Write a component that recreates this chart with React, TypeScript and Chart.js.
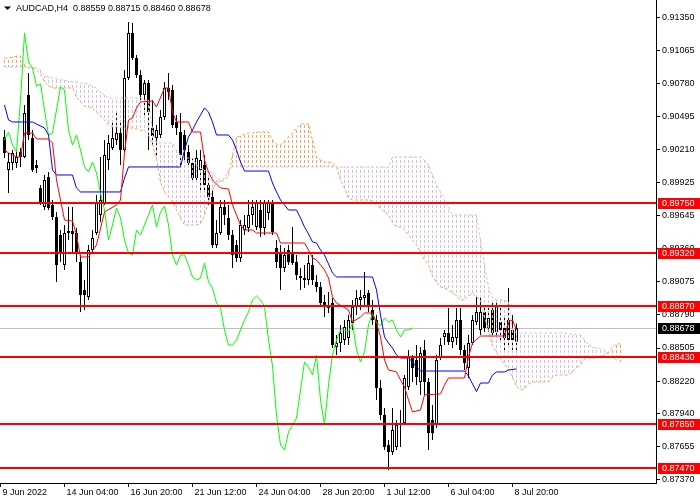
import React, { useEffect, useRef } from 'react';
import { Chart, registerables } from 'chart.js';

Chart.register(...registerables);

const FONT = "'Liberation Sans', Arial, sans-serif";

const symbolTitle = 'AUDCAD,H4';

const openP = [0.90320,0.90036,0.90096,0.90096,0.90191,0.90148,0.90681,0.90311,0.90079,0.89881,
0.89718,0.89976,0.89735,0.89632,0.89477,0.89219,0.89494,0.89511,0.89494,0.89245,
0.89004,0.88944,0.89348,0.89494,0.89649,0.89752,0.90122,0.90225,0.90294,0.90354,
0.90208,0.90827,0.91214,0.90999,0.90853,0.90681,0.90784,0.90397,0.90311,0.90337,
0.90492,0.90741,0.90724,0.90449,0.90363,0.90337,0.90191,0.90096,0.89967,0.90036,
0.90079,0.89907,0.89804,0.89391,0.89494,0.89718,0.89623,0.89477,0.89391,0.89279,
0.89520,0.89537,0.89649,0.89546,0.89692,0.89537,0.89666,0.89752,0.89365,0.89331,
0.89193,0.89348,0.89322,0.89245,0.89124,0.89090,0.89090,0.89219,0.89073,0.89030,
0.88901,0.88849,0.88892,0.88514,0.88548,0.88574,0.88591,0.88720,0.88858,0.88918,
0.88935,0.88978,0.88832,0.88746,0.88161,0.87929,0.87671,0.87611,0.87654,0.87843,
0.87860,0.88170,0.88419,0.88402,0.88213,0.88488,0.88213,0.87886,0.87843,0.88419,
0.88600,0.88634,0.88557,0.88591,0.88746,0.88488,0.88333,0.88548,0.88729,0.88660,
0.88815,0.88677,0.88832,0.88643,0.88729,0.88677,0.88746,0.88660,0.88559];

const highP = [0.90380,0.90182,0.90208,0.90208,0.90225,0.90595,0.90870,0.90380,0.90122,0.89907,
0.89993,0.90019,0.89778,0.89675,0.89520,0.89563,0.89718,0.89718,0.89537,0.89305,
0.89090,0.89391,0.89520,0.89821,0.90148,0.90294,0.90337,0.90466,0.90552,0.90466,
0.90896,0.91309,0.91300,0.91025,0.90896,0.90810,0.90810,0.90638,0.90423,0.90552,
0.90793,0.90870,0.90767,0.90509,0.90526,0.90380,0.90251,0.90139,0.90208,0.90208,
0.90165,0.89967,0.89864,0.89606,0.89778,0.89778,0.89735,0.89520,0.89434,0.89606,
0.89649,0.89778,0.89778,0.89778,0.89778,0.89778,0.89778,0.89778,0.89434,0.89391,
0.89365,0.89391,0.89546,0.89305,0.89193,0.89219,0.89305,0.89305,0.89133,0.89073,
0.88961,0.88987,0.88935,0.88617,0.88703,0.88746,0.88789,0.88918,0.89004,0.89004,
0.89159,0.89004,0.88918,0.88789,0.88230,0.87989,0.87714,0.87989,0.87886,0.87972,
0.88273,0.88488,0.88445,0.88531,0.88514,0.88574,0.88247,0.88015,0.88445,0.88591,
0.88660,0.88849,0.88703,0.88849,0.88849,0.88531,0.88617,0.88789,0.88961,0.88961,
0.88875,0.88849,0.88918,0.88918,0.88875,0.88763,0.89021,0.88789,0.88715];

const lowP = [0.90139,0.89838,0.90036,0.90053,0.90062,0.90139,0.90294,0.90019,0.90010,0.89735,
0.89692,0.89692,0.89606,0.89073,0.89245,0.89176,0.89434,0.89322,0.89245,0.88815,
0.88832,0.88918,0.89322,0.89477,0.89589,0.89735,0.90036,0.90208,0.90251,0.90079,
0.90191,0.90810,0.90982,0.90827,0.90638,0.90509,0.90208,0.90251,0.90139,0.90311,
0.90466,0.90638,0.90397,0.90337,0.90079,0.90122,0.90053,0.89924,0.89933,0.89864,
0.89864,0.89735,0.89365,0.89365,0.89477,0.89563,0.89434,0.89193,0.89245,0.89245,
0.89477,0.89503,0.89563,0.89520,0.89460,0.89477,0.89606,0.89477,0.89193,0.89004,
0.89159,0.89219,0.89219,0.89090,0.89004,0.89021,0.89047,0.89047,0.88987,0.88875,
0.88772,0.88806,0.88505,0.88445,0.88471,0.88531,0.88531,0.88660,0.88789,0.88832,
0.88875,0.88815,0.88703,0.88058,0.87886,0.87628,0.87456,0.87585,0.87628,0.87654,
0.87843,0.88144,0.88213,0.88187,0.88101,0.88101,0.87628,0.87714,0.87817,0.88402,
0.88531,0.88531,0.88505,0.88531,0.88445,0.88316,0.88247,0.88531,0.88703,0.88617,
0.88643,0.88643,0.88617,0.88617,0.88574,0.88488,0.88531,0.88488,0.88460];

const closeP = [0.90182,0.90105,0.90182,0.90148,0.90148,0.90526,0.90337,0.90036,0.90053,0.89752,
0.89950,0.89709,0.89632,0.89219,0.89322,0.89494,0.89511,0.89486,0.89322,0.88961,
0.88961,0.89348,0.89451,0.89752,0.89778,0.90165,0.90268,0.90311,0.90354,0.90208,
0.90827,0.91214,0.90999,0.90853,0.90681,0.90784,0.90535,0.90328,0.90380,0.90492,
0.90741,0.90707,0.90423,0.90397,0.90165,0.90208,0.90096,0.89967,0.90139,0.90122,
0.89907,0.89804,0.89391,0.89494,0.89718,0.89649,0.89477,0.89305,0.89279,0.89563,
0.89563,0.89649,0.89718,0.89752,0.89537,0.89752,0.89752,0.89503,0.89245,0.89193,
0.89305,0.89245,0.89236,0.89133,0.89107,0.89107,0.89236,0.89090,0.89030,0.88892,
0.88858,0.88875,0.88531,0.88548,0.88634,0.88686,0.88746,0.88858,0.88935,0.88944,
0.88961,0.88858,0.88746,0.88161,0.87929,0.87654,0.87611,0.87800,0.87843,0.87852,
0.88247,0.88428,0.88333,0.88256,0.88462,0.88213,0.87774,0.87774,0.88402,0.88531,
0.88634,0.88557,0.88600,0.88746,0.88488,0.88376,0.88548,0.88746,0.88815,0.88815,
0.88677,0.88763,0.88634,0.88858,0.88660,0.88591,0.88574,0.88574,0.88678];

// Tenkan-sen (red) vertices: [bar index, price]
const tenkanPts: [number, number][] = [
[0,0.90208],[1,0.90182],[3,0.90148],[4,0.90148],[5,0.90354],[7,0.90354],[8,0.90303],[11,0.90303],
[12,0.90268],[13,0.89950],[15,0.89606],[17,0.89597],[18,0.89477],[19,0.89288],[21,0.89288],[23,0.89391],
[25,0.89675],[28,0.89735],[29,0.89778],[30,0.90182],[31,0.90466],[32,0.90483],[33,0.90569],[34,0.90621],
[37,0.90629],[38,0.90578],[40,0.90741],[41,0.90741],[42,0.90535],[43,0.90449],[46,0.90449],[47,0.90363],
[49,0.90363],[50,0.90122],[51,0.90019],[52,0.89950],[54,0.89881],[56,0.89873],[57,0.89735],[58,0.89649],
[59,0.89563],[60,0.89520],[62,0.89520],[63,0.89494],[68,0.89494],[69,0.89408],[75,0.89408],[76,0.89348],
[77,0.89279],[78,0.89262],[80,0.89176],[81,0.89107],[82,0.88944],[83,0.88892],[86,0.88832],[87,0.88729],
[89,0.88772],[90,0.88806],[92,0.88806],[93,0.88720],[94,0.88600],[95,0.88402],[96,0.88316],[98,0.88299],
[99,0.88230],[100,0.88170],[101,0.88058],[102,0.87955],[104,0.87972],[105,0.88101],[109,0.88110],[110,0.88187],
[111,0.88247],[115,0.88247],[116,0.88428],[117,0.88548],[119,0.88608],[125,0.88608],[126,0.88729],[127,0.88746],
[128,0.88660]];

// Kijun-sen (blue) vertices: [bar index, price]
const kijunPts: [number, number][] = [
[0,0.90595],[1,0.90466],[2,0.90449],[7,0.90449],[10,0.90397],[11,0.90337],[12,0.90036],[13,0.89993],
[17,0.89993],[18,0.89881],[19,0.89847],[29,0.89847],[30,0.89967],[31,0.90062],[44,0.90062],[45,0.90208],
[46,0.90320],[47,0.90380],[48,0.90449],[49,0.90509],[50,0.90569],[51,0.90535],[52,0.90449],[53,0.90337],
[56,0.90337],[57,0.90294],[58,0.90208],[59,0.90105],[60,0.90027],[66,0.90027],[67,0.89924],[68,0.89847],
[69,0.89778],[70,0.89735],[71,0.89692],[73,0.89692],[74,0.89623],[75,0.89546],[76,0.89486],[77,0.89417],
[78,0.89408],[79,0.89348],[80,0.89305],[81,0.89228],[82,0.89150],[83,0.89116],[92,0.89116],[93,0.89004],
[94,0.88789],[95,0.88600],[96,0.88548],[97,0.88505],[98,0.88445],[99,0.88419],[101,0.88419],[102,0.88385],
[103,0.88342],[104,0.88307],[115,0.88307],[116,0.88264],[117,0.88196],[118,0.88130],[119,0.88204],[121,0.88204],
[122,0.88273],[123,0.88299],[125,0.88299],[126,0.88316],[128,0.88325]];

// Chikou span (green), one value per bar from index 0
const chikouVals = [0.90294,0.90363,0.90251,0.90191,0.90638,0.91214,0.90965,0.90913,0.90758,0.90776,
0.90552,0.90337,0.90354,0.90552,0.90750,0.90724,0.90380,0.90251,0.90337,0.90208,
0.90062,0.90019,0.90105,0.90010,0.89838,0.89692,0.89434,0.89563,0.89709,0.89623,
0.89434,0.89322,0.89305,0.89520,0.89477,0.89563,0.89649,0.89735,0.89546,0.89675,
0.89726,0.89563,0.89305,0.89219,0.89305,0.89305,0.89219,0.89116,0.89090,0.89107,
0.89236,0.89073,0.89021,0.88892,0.88849,0.88660,0.88531,0.88531,0.88574,0.88660,
0.88746,0.88815,0.88918,0.88952,0.88918,0.88866,0.88574,0.88350,0.87929,0.87671,
0.87628,0.87783,0.87843,0.87903,0.88144,0.88385,0.88342,0.88273,0.88445,0.88058,
0.87843,0.88187,0.88445,0.88574,0.88660,0.88660,0.88643,0.88720,0.88488,0.88385,
0.88471,0.88703,0.88798,0.88729,0.88694,0.88763,0.88729,0.88746,0.88660,0.88600,
0.88660,0.88660,0.88677];

// Senkou span A (orange), one value per bar from index 0 (extends 26 bars ahead)
const spanA = [0.90999,0.90999,0.91008,0.91016,0.91016,0.90939,0.90913,0.90913,0.90896,0.90862,
0.90793,0.90758,0.90741,0.90741,0.90741,0.90741,0.90741,0.90741,0.90664,0.90621,
0.90586,0.90578,0.90569,0.90535,0.90500,0.90466,0.90423,0.90406,0.90406,0.90397,
0.90397,0.90397,0.90397,0.90389,0.90380,0.90371,0.90337,0.90251,0.90139,0.89933,
0.89847,0.89804,0.89769,0.89692,0.89623,0.89563,0.89563,0.89563,0.89563,0.89572,
0.89649,0.89761,0.89864,0.89933,0.89933,0.89950,0.89984,0.90165,0.90320,0.90328,
0.90346,0.90354,0.90354,0.90363,0.90363,0.90363,0.90363,0.90294,0.90260,0.90251,
0.90285,0.90320,0.90354,0.90397,0.90432,0.90432,0.90432,0.90294,0.90148,0.90122,
0.90105,0.90105,0.90096,0.90062,0.89950,0.89881,0.89795,0.89778,0.89778,0.89778,
0.89778,0.89778,0.89769,0.89735,0.89709,0.89675,0.89649,0.89589,0.89546,0.89546,
0.89520,0.89477,0.89434,0.89391,0.89331,0.89262,0.89219,0.89124,0.89073,0.89030,
0.89021,0.89004,0.88978,0.88952,0.88918,0.88918,0.88952,0.88978,0.88944,0.88918,
0.88763,0.88660,0.88522,0.88471,0.88411,0.88368,0.88316,0.88247,0.88178,0.88144,
0.88153,0.88196,0.88213,0.88213,0.88213,0.88213,0.88213,0.88256,0.88273,0.88273,
0.88273,0.88273,0.88299,0.88333,0.88359,0.88411,0.88419,0.88419,0.88419,0.88436,
0.88445,0.88471,0.88505,0.88540,0.88540];

// Senkou span B (thistle), one value per bar from index 0
const spanB = [0.90922,0.90922,0.90922,0.90922,0.90922,0.90922,0.90922,0.90922,0.90913,0.90896,
0.90844,0.90836,0.90827,0.90819,0.90810,0.90810,0.90801,0.90793,0.90793,0.90784,
0.90784,0.90776,0.90758,0.90741,0.90707,0.90681,0.90655,0.90655,0.90655,0.90655,
0.90655,0.90655,0.90655,0.90655,0.90655,0.90638,0.90638,0.90380,0.90268,0.90268,
0.90268,0.90268,0.90268,0.90208,0.90165,0.90139,0.90139,0.90139,0.90079,0.90053,
0.90036,0.90019,0.90010,0.89967,0.89950,0.89967,0.90036,0.90062,0.90062,0.90062,
0.90062,0.90062,0.90062,0.90062,0.90062,0.90062,0.90062,0.90062,0.90062,0.90062,
0.90062,0.90062,0.90062,0.90062,0.90062,0.90062,0.90062,0.90062,0.90062,0.90062,
0.90062,0.90062,0.90062,0.90062,0.90062,0.90062,0.90062,0.90062,0.90062,0.90062,
0.90062,0.90062,0.90062,0.90062,0.90062,0.90062,0.90062,0.90148,0.90148,0.90148,
0.90148,0.90148,0.90148,0.90148,0.90148,0.90122,0.90079,0.89993,0.89907,0.89847,
0.89778,0.89718,0.89649,0.89649,0.89649,0.89649,0.89649,0.89649,0.89649,0.89434,
0.89219,0.89030,0.88935,0.88918,0.88918,0.88918,0.88901,0.88660,0.88634,0.88634,
0.88634,0.88634,0.88634,0.88634,0.88634,0.88634,0.88634,0.88634,0.88634,0.88634,
0.88634,0.88626,0.88626,0.88617,0.88617,0.88574,0.88531,0.88514,0.88505,0.88497,
0.88488,0.88445,0.88419,0.88402,0.88385];

const levelLines = [0.89750, 0.89320, 0.88870, 0.88430, 0.87850, 0.87470];
const lastPrice = 0.88678;

const yTickValues = [0.91350, 0.91065, 0.90780, 0.90495, 0.90210, 0.89925, 0.89645, 0.89360,
  0.89075, 0.88790, 0.88505, 0.88220, 0.87940, 0.87655, 0.87370];

const xTickIdx = [-1, 15, 31, 47, 63, 79, 95, 111, 127];
const xTickLabels = ['9 Jun 2022', '14 Jun 04:00', '16 Jun 20:00', '21 Jun 12:00', '24 Jun 04:00',
  '28 Jun 20:00', '1 Jul 12:00', '6 Jul 04:00', '8 Jul 20:00'];

function makeHatch(ctx: CanvasRenderingContext2D, color: string): any {
  const c = document.createElement('canvas');
  c.width = 1;
  c.height = 5;
  const g = c.getContext('2d')!;
  g.fillStyle = color;
  g.fillRect(0, 0, 1, 3);
  return ctx.createPattern(c, 'repeat') || color;
}

const overlayPlugin = {
  id: 'mt4Overlay',
  beforeDatasetsDraw(chart: any) {
    const { ctx, chartArea: a, scales } = chart;
    const py = Math.round(scales.y.getPixelForValue(lastPrice)) + 0.5;
    ctx.save();
    ctx.strokeStyle = '#C0C0C0';
    ctx.lineWidth = 1;
    ctx.beginPath();
    ctx.moveTo(a.left, py);
    ctx.lineTo(a.right, py);
    ctx.stroke();
    ctx.restore();
  },
  afterDatasetsDraw(chart: any) {
    const { ctx, chartArea: a, scales } = chart;
    ctx.save();
    ctx.strokeStyle = '#FF0000';
    ctx.lineWidth = 2;
    levelLines.forEach((v) => {
      const py = Math.round(scales.y.getPixelForValue(v));
      ctx.beginPath();
      ctx.moveTo(a.left, py);
      ctx.lineTo(a.right, py);
      ctx.stroke();
    });
    ctx.restore();
  },
  afterDraw(chart: any) {
    const { ctx, chartArea: a, scales } = chart;
    ctx.save();
    ctx.font = `9px ${FONT}`;
    ctx.textBaseline = 'middle';
    ctx.textAlign = 'left';
    const box = (v: number, bg: string) => {
      const py = Math.round(scales.y.getPixelForValue(v));
      ctx.fillStyle = bg;
      ctx.fillRect(a.right + 2, py - 5, chart.width - a.right - 2, 11);
      ctx.fillStyle = '#FFFFFF';
      ctx.fillText(v.toFixed(5), a.right + 6, py + 0.5);
    };
    levelLines.forEach((v) => box(v, '#FF0000'));
    box(lastPrice, '#000000');

    // title
    const n = openP.length - 1;
    ctx.fillStyle = '#000000';
    ctx.beginPath();
    ctx.moveTo(4, 6.5);
    ctx.lineTo(11, 6.5);
    ctx.lineTo(7.5, 10);
    ctx.closePath();
    ctx.fill();
    const title = `${symbolTitle}  ${openP[n].toFixed(5)} ${highP[n].toFixed(5)} ${lowP[n].toFixed(5)} ${closeP[n].toFixed(5)}`;
    ctx.fillText(title, 16, 8.5);
    ctx.restore();
  },
};

export default function App() {
  const ref = useRef<HTMLCanvasElement>(null);

  useEffect(() => {
    const canvas = ref.current!;
    const ctx = canvas.getContext('2d')!;
    const orangeHatch = makeHatch(ctx, '#F4A460');
    const plumHatch = makeHatch(ctx, '#D8BFD8');
    const idx = openP.map((_, i) => i);

    const chart = new Chart(ctx, {
      type: 'bar',
      data: {
        datasets: [
          {
            type: 'bar',
            data: idx.map((i) => ({ x: i, y: [lowP[i], highP[i]] })) as any,
            backgroundColor: '#000000',
            borderWidth: 0,
            barThickness: 1,
            grouped: false,
            inflateAmount: 0,
            order: 10,
          } as any,
          {
            type: 'bar',
            data: idx.map((i) => ({ x: i, y: [Math.min(openP[i], closeP[i]), Math.max(openP[i], closeP[i])] })) as any,
            backgroundColor: idx.map((i) => (closeP[i] >= openP[i] ? '#FFFFFF' : '#000000')),
            borderColor: '#000000',
            borderWidth: 1,
            borderSkipped: false,
            barThickness: 3,
            grouped: false,
            inflateAmount: 0,
            order: 9,
          } as any,
          {
            type: 'bar',
            data: spanA.map((v, i) => ({ x: i, y: [v, spanB[i]] })) as any,
            backgroundColor: spanA.map((v, i) => (v >= spanB[i] ? orangeHatch : plumHatch)),
            borderWidth: 0,
            barThickness: 1,
            grouped: false,
            inflateAmount: 0,
            order: 8,
          } as any,
          {
            type: 'line',
            data: spanA.map((v, i) => ({ x: i, y: v })),
            borderColor: '#F4A460',
            borderWidth: 1,
            borderDash: [3, 2],
            pointRadius: 0,
            fill: false,
            order: 7,
          } as any,
          {
            type: 'line',
            data: spanB.map((v, i) => ({ x: i, y: v })),
            borderColor: '#D8BFD8',
            borderWidth: 1,
            borderDash: [3, 2],
            pointRadius: 0,
            fill: false,
            order: 7,
          } as any,
          {
            type: 'line',
            data: chikouVals.map((v, i) => ({ x: i, y: v })),
            borderColor: '#00FF00',
            borderWidth: 1,
            pointRadius: 0,
            fill: false,
            order: 6,
          } as any,
          {
            type: 'line',
            data: kijunPts.map(([x, y]) => ({ x, y })),
            borderColor: '#0000FF',
            borderWidth: 1,
            pointRadius: 0,
            fill: false,
            order: 5,
          } as any,
          {
            type: 'line',
            data: tenkanPts.map(([x, y]) => ({ x, y })),
            borderColor: '#FF0000',
            borderWidth: 1,
            pointRadius: 0,
            fill: false,
            order: 4,
          } as any,
        ],
      },
      options: {
        responsive: false,
        animation: false,
        events: [],
        layout: { padding: 0 },
        plugins: {
          legend: { display: false },
          tooltip: { enabled: false },
          title: { display: false },
        },
        scales: {
          x: {
            type: 'linear',
            min: -1.125,
            max: 162.875,
            offset: false,
            grid: { display: true, offset: false, drawOnChartArea: false, drawTicks: true, tickLength: 4, color: '#000000' },
            border: { display: true, color: '#000000' },
            afterBuildTicks: (s: any) => {
              s.ticks = xTickIdx.map((v) => ({ value: v }));
            },
            ticks: {
              autoSkip: false,
              maxRotation: 0,
              minRotation: 0,
              align: 'start',
              labelOffset: 2,
              padding: 0,
              color: '#000000',
              font: { family: FONT, size: 9 },
              callback: (v: any) => {
                const k = xTickIdx.indexOf(Number(v));
                return k >= 0 ? xTickLabels[k] : '';
              },
            },
            afterFit: (s: any) => {
              s.height = 17;
              s.paddingLeft = 0;
              s.paddingRight = 0;
            },
          } as any,
          y: {
            type: 'linear',
            position: 'right',
            min: 0.87344,
            max: 0.91498,
            grid: { display: true, drawOnChartArea: false, drawTicks: true, tickLength: 4, color: '#000000' },
            border: { display: true, color: '#000000' },
            afterBuildTicks: (s: any) => {
              s.ticks = yTickValues.map((v) => ({ value: v }));
            },
            ticks: {
              autoSkip: false,
              padding: 2,
              color: '#000000',
              font: { family: FONT, size: 9 },
              callback: (v: any) => Number(v).toFixed(5),
            },
            afterFit: (s: any) => {
              s.width = 44;
              s.paddingTop = 0;
              s.paddingBottom = 0;
            },
          } as any,
        },
      } as any,
      plugins: [overlayPlugin as any],
    });

    return () => chart.destroy();
  }, []);

  return (
    <div style={{ position: 'fixed', left: 0, top: 0, width: 700, height: 500, background: '#FFFFFF' }}>
      <canvas ref={ref} width={700} height={500} style={{ display: 'block', width: 700, height: 500 }} />
    </div>
  );
}
